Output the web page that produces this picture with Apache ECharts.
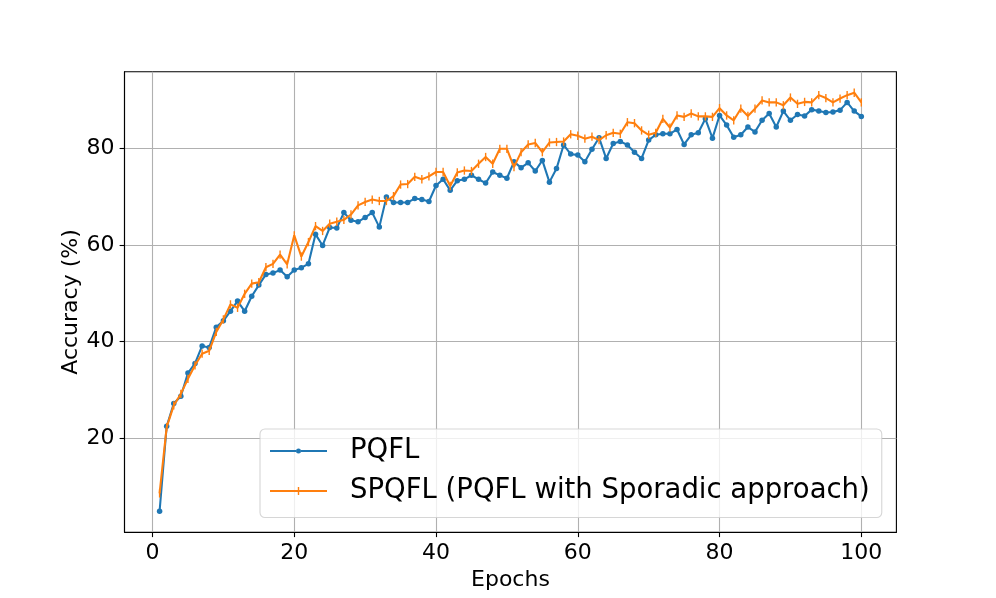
<!DOCTYPE html>
<html>
<head>
<meta charset="utf-8">
<script src="https://cdn.jsdelivr.net/npm/echarts@6/dist/echarts.min.js"></script>
<style>
html,body{margin:0;padding:0;background:#fff;}
#chart{width:996px;height:598px;}
</style>
</head>
<body>
<div id="chart"></div>
<script>
const epochs = [1,2,3,4,5,6,7,8,9,10,11,12,13,14,15,16,17,18,19,20,21,22,23,24,25,26,27,28,29,30,31,32,33,34,35,36,37,38,39,40,41,42,43,44,45,46,47,48,49,50,51,52,53,54,55,56,57,58,59,60,61,62,63,64,65,66,67,68,69,70,71,72,73,74,75,76,77,78,79,80,81,82,83,84,85,86,87,88,89,90,91,92,93,94,95,96,97,98,99,100];
const pqfl = [4.9,22.5,27.2,28.7,33.5,35.5,39.1,38.8,43.0,44.3,46.3,48.4,46.3,49.4,51.7,53.9,54.2,54.8,53.4,54.8,55.3,56.1,62.2,59.9,63.6,63.5,66.7,65.1,64.8,65.7,66.7,63.7,69.9,68.8,68.8,68.8,69.6,69.4,69.0,72.3,73.6,71.3,73.3,73.6,74.4,73.6,72.8,75.1,74.4,73.8,77.2,76.0,77.0,75.3,77.5,73.0,75.8,80.7,78.8,78.6,77.2,79.8,82.2,77.9,81.0,81.4,80.7,79.2,77.9,81.7,82.8,83.0,83.0,83.9,80.8,82.8,83.2,86.1,82.1,86.8,84.8,82.3,82.8,84.4,83.4,85.8,87.2,84.4,87.7,85.8,87.0,86.7,88.0,87.7,87.4,87.5,87.9,89.5,87.7,86.6];
const spqfl = [8.6,22.3,26.8,29.2,32.3,35.1,37.5,38.1,42.0,44.6,47.7,47.0,49.9,52.0,52.3,55.4,56.1,58.0,56.0,62.0,57.6,60.6,63.9,62.9,64.4,64.8,65.2,66.3,68.2,68.9,69.4,69.1,69.1,70.1,72.5,72.6,74.1,73.6,74.2,75.1,75.1,72.2,75.0,75.4,75.3,76.8,78.2,76.8,79.9,79.9,76.1,79.2,80.8,81.1,79.2,81.2,81.3,81.4,82.9,82.6,82.0,82.4,81.7,82.7,83.2,83.0,85.4,85.2,83.7,82.8,83.2,86.1,84.3,86.8,86.5,87.2,86.6,86.6,86.5,88.3,86.8,85.8,88.2,86.7,88.2,89.9,89.5,89.5,88.9,90.5,89.2,89.6,89.5,91.0,90.4,89.5,90.3,91.0,91.5,89.5];
const xTicks = [0,20,40,60,80,100];
const yTicks = [20,40,60,80];
const seriesNames = ['PQFL','SPQFL (PQFL with Sporadic approach)'];
const xLabel = 'Epochs';
const yLabel = 'Accuracy (%)';

// matplotlib-like 5% margins
function padRange(vals){
  const lo = Math.min.apply(null, vals), hi = Math.max.apply(null, vals);
  const m = (hi - lo) * 0.05;
  return [lo - m, hi + m];
}
const xr = padRange(epochs);
const yr = padRange(pqfl.concat(spqfl));

const FONT = 'DejaVu Sans';
// legend handle icons: line + marker (57 x 8 box)
const ICON_DOT = 'path://M0,2.96h26v2.08h-26z M31,2.96h26v2.08h-26z M26,4a2.5,2.5 0 1,0 5,0a2.5,2.5 0 1,0 -5,0z';
const ICON_TICK = 'path://M0,2.96h27.8v2.08h-27.8z M29.2,2.96h27.8v2.08h-27.8z M27.8,0h1.4v8h-1.4z';

const chart = echarts.init(document.getElementById('chart'), null, {renderer:'canvas'});
const axisCommon = {
  axisLine:{show:true, onZero:false, lineStyle:{color:'#000', width:1.1}},
  axisTick:{show:true, inside:false, length:4.9, lineStyle:{color:'#000', width:1.1}},
  splitLine:{show:true, lineStyle:{color:'#b0b0b0', width:1.1}},
  nameTextStyle:{fontFamily:FONT, fontSize:22, color:'#000'},
  nameLocation:'middle'
};
chart.setOption({
  animation:false,
  backgroundColor:'#fff',
  grid:{left:124.5, right:99.6, top:71.8, bottom:65.8, show:true, borderColor:'#000', borderWidth:1.1, backgroundColor:'transparent'},
  xAxis:Object.assign({}, axisCommon, {
    type:'value', min:xr[0], max:xr[1],
    name:xLabel, nameGap:34,
    axisTick:Object.assign({}, axisCommon.axisTick, {customValues:xTicks}),
    axisLabel:{customValues:xTicks, margin:10, fontFamily:FONT, fontSize:22, color:'#000', showMinLabel:true, showMaxLabel:true}
  }),
  yAxis:Object.assign({}, axisCommon, {
    type:'value', min:yr[0], max:yr[1],
    name:yLabel, nameGap:42, nameRotate:90, nameMoveOverlap:false,
    axisTick:Object.assign({}, axisCommon.axisTick, {customValues:yTicks}),
    axisLabel:{customValues:yTicks, margin:10, fontFamily:FONT, fontSize:22, color:'#000'}
  }),
  legend:{
    orient:'vertical', left:260, top:429,
    padding:[8,12,12.5,10],
    itemWidth:57, itemHeight:8, itemGap:12,
    backgroundColor:'rgba(255,255,255,0.8)',
    borderColor:'rgba(204,204,204,0.8)', borderWidth:1.1, borderRadius:5,
    textStyle:{fontFamily:FONT, fontSize:27.5, lineHeight:28, color:'#000', padding:[0,0,0,18]},
    data:[{name:seriesNames[0], icon:ICON_DOT},{name:seriesNames[1], icon:ICON_TICK}]
  },
  series:[
    {
      name:seriesNames[0], type:'line',
      data:epochs.map((e,i)=>[e,pqfl[i]]),
      symbol:'circle', symbolSize:5.5, showSymbol:true,
      color:'#1f77b4',
      lineStyle:{color:'#1f77b4', width:2.08},
      itemStyle:{color:'#1f77b4', borderWidth:0},
      z:2
    },
    {
      name:seriesNames[1], type:'line',
      data:epochs.map((e,i)=>[e,spqfl[i]]),
      symbol:'rect', symbolSize:[1.4,8.3], showSymbol:true,
      color:'#ff7f0e',
      lineStyle:{color:'#ff7f0e', width:2.08},
      itemStyle:{color:'#ff7f0e', borderWidth:0},
      z:3
    }
  ]
});
</script>
</body>
</html>
